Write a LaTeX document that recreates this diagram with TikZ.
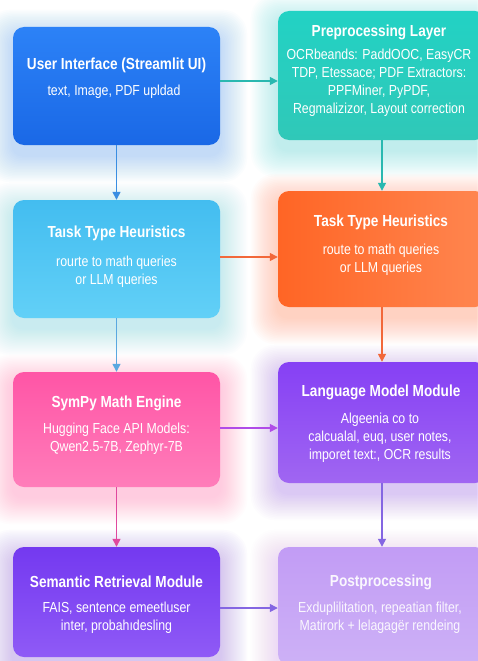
\documentclass[tikz,border=0pt]{standalone}
\usepackage{fontspec}
\setmainfont[FakeStretch=0.85]{Liberation Sans}
\usetikzlibrary{arrows.meta,backgrounds}
\definecolor{cBlueA}{HTML}{2C82F7}
\definecolor{cBlueB}{HTML}{1A68E6}
\definecolor{cTealA}{HTML}{22D2C4}
\definecolor{cTealB}{HTML}{30C8B8}
\definecolor{cSkyA}{HTML}{43BDF0}
\definecolor{cSkyB}{HTML}{62D0F7}
\definecolor{cOrA}{HTML}{FF6525}
\definecolor{cOrB}{HTML}{FF8650}
\definecolor{cPinkA}{HTML}{FF55A6}
\definecolor{cPinkB}{HTML}{FF7DBA}
\definecolor{cVioA}{HTML}{8640F4}
\definecolor{cVioB}{HTML}{A066F2}
\definecolor{cPurA}{HTML}{7439F0}
\definecolor{cPurB}{HTML}{8F5AF6}
\definecolor{cLavA}{HTML}{C29CF5}
\definecolor{cLavB}{HTML}{CDB1F6}
\definecolor{aTeal}{HTML}{2AB8B0}
\definecolor{aBlue}{HTML}{3A8EE2}
\definecolor{aOrange}{HTML}{F2683A}
\definecolor{aSky}{HTML}{5AA8E0}
\definecolor{aMag}{HTML}{B04CE8}
\definecolor{aPink}{HTML}{E0489E}
\definecolor{aPur}{HTML}{8466E2}
\newcommand\glowbox[2]{%
  \begin{pgfonlayer}{background}
  \foreach \e in {1.5,3,...,27}{
    \fill[#2, opacity=0.014, rounded corners={11pt+\e*0.5pt}]
      ([xshift=-\e pt,yshift={\e*1pt-10pt}]#1.north west) rectangle
      ([xshift=\e pt,yshift={-\e*1pt-10pt}]#1.south east);
  }
  \end{pgfonlayer}}
\begin{document}
\begin{tikzpicture}[x=1pt,y=-1pt,
  box/.style={rounded corners=11pt, minimum width=207pt, inner sep=0pt},
  ttl/.style={text=white, font=\bfseries\fontsize{16}{18}\selectfont},
  bdy/.style={text=white, align=center, font=\fontsize{14.5}{18}\selectfont},
  arr/.style={line width=1.4pt, -{Triangle[length=8pt,width=8pt]}},
]
\useasboundingbox (0,0) rectangle (477,661);
\begin{pgfonlayer}{background}
\fill[white] (0,0) rectangle (477,661);
\end{pgfonlayer}

% boxes
\node[box, minimum height=118pt, top color=cBlueA, bottom color=cBlueB] (ui) at (116.5,86) {};
\node[box, minimum width=208pt, minimum height=129pt, top color=cTealA, bottom color=cTealB] (pre) at (382,75.5) {};
\node[box, minimum height=118pt, top color=cSkyA, bottom color=cSkyB] (th1) at (116.5,259) {};
\node[box, minimum width=208pt, minimum height=116pt, left color=cOrA, right color=cOrB] (th2) at (382,249) {};
\node[box, minimum height=115pt, top color=cPinkA, bottom color=cPinkB] (sym) at (116.5,429.5) {};
\node[box, minimum width=208pt, minimum height=121pt, top color=cVioA, bottom color=cVioB] (lang) at (382,422.5) {};
\node[box, minimum height=110pt, top color=cPurA, bottom color=cPurB] (sem) at (116.5,602) {};
\node[box, minimum width=208pt, minimum height=118pt, top color=cLavA, bottom color=cLavB] (post) at (382,606) {};

\glowbox{ui}{cBlueA}
\glowbox{pre}{cTealA}
\glowbox{th1}{cSkyA}
\glowbox{th2}{cOrA}
\glowbox{sym}{cPinkA}
\glowbox{lang}{cVioA}
\glowbox{sem}{cPurA}
\glowbox{post}{cLavA}

% texts
\node[ttl] (ui-t) at (116.5,65) {User Interface (Streamlit UI)};
\node[bdy] (ui-b) at (114,92) {text, Image, PDF upldad};

\node[ttl] (pre-t) at (379,32) {Preprocessing Layer};
\node[bdy, anchor=north] (pre-b) at (379,45) {OCRbeands: PaddOOC, EasyCR\\TDP, Etessace; PDF Extractors:\\PPFMiner, PyPDF,\\Regmalizizor, Layout correction};

\node[ttl] (th1-t) at (116.5,233) {Taısk Type Heuristics};
\node[bdy, anchor=north] (th1-b) at (116.5,252) {rourte to math queries\\or LLM queries};

\node[ttl] (th2-t) at (381,222) {Task Type Heuristics};
\node[bdy, anchor=north] (th2-b) at (381,240) {route to math queries\\or LLM queries};

\node[ttl] (sym-t) at (116.5,403) {SymPy Math Engine};
\node[bdy, anchor=north] (sym-b) at (116.5,419) {Hugging Face API Models:\\Qwen2.5-7B, Zephyr-7B};

\node[ttl] (lang-t) at (381,392) {Language Model Module};
\node[bdy, anchor=north] (lang-b) at (380,409) {Algeenia co to\hspace{34pt}\\calcualal, euq, user notes,\\imporet text:, OCR results};

\node[ttl] (sem-t) at (116.5,582) {Semantic Retrieval Module};
\node[bdy, anchor=north] (sem-b) at (116.5,598) {FAIS, sentence emeetluser\\inter, probahıdesling};

\node[ttl, text=white!92!cLavA] (post-t) at (381,582) {Postprocessing};
\node[bdy, text=white!92!cLavA, anchor=north] (post-b) at (380,598) {Exduplilitation, repeatian filter,\\Matirork + lelagagër rendeing};

% connectors
\draw[arr, aTeal] ([yshift=5pt]ui.east) -- ([yshift=5pt]ui.east -| pre.west);
\draw[arr, aBlue] (ui.south) -- (th1.north);
\draw[arr, aTeal] (pre.south) -- (th2.north);
\draw[arr, aOrange] ([yshift=2pt]th1.east) -- ([yshift=2pt]th1.east -| th2.west);
\draw[arr, aSky] (th1.south) -- (sym.north);
\draw[arr, aOrange] (th2.south) -- (lang.north);
\draw[arr, aMag] ([yshift=1.5pt]sym.east) -- ([yshift=1.5pt]sym.east -| lang.west);
\draw[arr, aPink] (sym.south) -- (sem.north);
\draw[arr, aPur] (lang.south) -- (post.north);
\draw[arr, aPur] ([yshift=-6pt]sem.east) -- ([yshift=-6pt]sem.east -| post.west);
\end{tikzpicture}
\end{document}
